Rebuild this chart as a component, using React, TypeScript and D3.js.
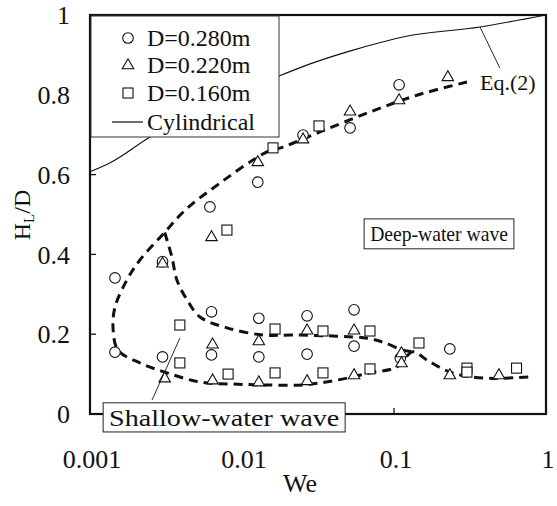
import React from "react";
import * as d3 from "d3";

// ---- data ----
const xTicks = [0.001, 0.01, 0.1, 1];
const xTickLabels = ["0.001", "0.01", "0.1", "1"];
const yTicks = [0, 0.2, 0.4, 0.6, 0.8, 1];
const yTickLabels = ["0", "0.2", "0.4", "0.6", "0.8", "1"];

const legendLabels = ["D=0.280m", "D=0.220m", "D=0.160m", "Cylindrical"];

// D=0.280m (circles): [We, HL/D]
const circleData: [number, number][] = [
  [0.00146, 0.341], [0.00146, 0.155], [0.003, 0.143], [0.003, 0.382],
  [0.00615, 0.519], [0.0063, 0.256], [0.0063, 0.148], [0.0127, 0.581],
  [0.0129, 0.24], [0.0129, 0.143], [0.0252, 0.699], [0.0268, 0.246],
  [0.0268, 0.15], [0.0514, 0.717], [0.0546, 0.261], [0.0546, 0.17],
  [0.108, 0.825], [0.11, 0.14], [0.233, 0.163],
];
// D=0.220m (triangles)
const triangleData: [number, number][] = [
  [0.003, 0.378], [0.0031, 0.09], [0.0063, 0.444], [0.0064, 0.175],
  [0.0064, 0.085], [0.0127, 0.632], [0.0129, 0.183], [0.0129, 0.08],
  [0.0252, 0.689], [0.0268, 0.21], [0.0268, 0.083], [0.0514, 0.759],
  [0.0546, 0.21], [0.0546, 0.098], [0.108, 0.787], [0.112, 0.153],
  [0.112, 0.128], [0.226, 0.845], [0.233, 0.098], [0.49, 0.098],
];
// D=0.160m (squares)
const squareData: [number, number][] = [
  [0.0039, 0.223], [0.0039, 0.128], [0.00796, 0.461], [0.0081, 0.1],
  [0.016, 0.667], [0.0165, 0.213], [0.0165, 0.103], [0.0321, 0.722],
  [0.0341, 0.208], [0.0341, 0.103], [0.0695, 0.208], [0.0695, 0.113],
  [0.146, 0.178], [0.302, 0.115], [0.302, 0.105], [0.64, 0.115],
];

// Cylindrical, Eq.(2)
const cylWe = [0.001, 0.00135, 0.00248, 0.017, 0.0293, 0.0538, 0.1146, 0.368, 1.0];
const cylH = [0.607, 0.629, 0.694, 0.845, 0.88, 0.912, 0.945, 0.97, 1.0];

// dashed boundary curves
const curveAWe = [0.302, 0.1416, 0.0664, 0.0326, 0.0186, 0.0146, 0.00644, 0.0042, 0.0031,
  0.00213, 0.00175, 0.00146, 0.00142, 0.00153, 0.00213, 0.00321, 0.0053, 0.00873,
  0.01374, 0.0252, 0.0422, 0.0695, 0.1047, 0.133, 0.165, 0.234, 0.385, 0.785];
const curveAH = [0.832, 0.799, 0.754, 0.707, 0.669, 0.657, 0.566, 0.51, 0.455,
  0.386, 0.336, 0.268, 0.211, 0.16, 0.128, 0.103, 0.08, 0.075,
  0.073, 0.073, 0.085, 0.103, 0.118, 0.156, 0.135, 0.105, 0.09, 0.093];
const curveBWe = [0.0031, 0.00346, 0.00373, 0.00435, 0.0053, 0.00796, 0.01374, 0.0217,
  0.0422, 0.0664, 0.0847, 0.1146, 0.133];
const curveBH = [0.455, 0.393, 0.336, 0.286, 0.243, 0.216, 0.198, 0.198,
  0.195, 0.19, 0.18, 0.16, 0.156];

// annotations
const eqLeader = [[0.368, 0.97], [0.497, 0.867]];
const eqLabelPos = [0.368, 0.812];
const shallowLeader = [[0.0039, 0.19], [0.00256, 0.035]];
const deepBox = [0.0636, 0.615, 0.489, 0.414];
const shallowBox = [0.00122, 0.0477, 0.028, -0.045];

const W = 557, H = 506;
const left = 90, right = 546, top = 15, bottom = 414;
const FONT = "Liberation Serif, Times New Roman, Times, serif";
const T = { fontFamily: FONT };

export default function App() {
  const x = d3.scaleLog().domain([0.001, 1]).range([left, right]);
  const y = d3.scaleLinear().domain([0, 1]).range([bottom, top]);

  const cylLine = d3.line<number>().x((_, i) => x(cylWe[i])).y((_, i) => y(cylH[i]))
    .curve(d3.curveMonotoneX);
  const curveA = d3.line<number>().x((_, i) => x(curveAWe[i])).y((_, i) => y(curveAH[i]))
    .curve(d3.curveCatmullRom.alpha(0.5));
  const curveB = d3.line<number>().x((_, i) => x(curveBWe[i])).y((_, i) => y(curveBH[i]))
    .curve(d3.curveCatmullRom.alpha(0.5));

  const circle = (cx: number, cy: number, k: string) => (
    <circle key={k} cx={cx} cy={cy} r={5.3} fill="white" stroke="#111" strokeWidth={1.1} />
  );
  const tri = (cx: number, cy: number, k: string) => {
    const s = 11.5, h = s * Math.sqrt(3) / 2;
    const pts = `${cx},${cy - h * 0.62} ${cx - s / 2},${cy + h * 0.38} ${cx + s / 2},${cy + h * 0.38}`;
    return <polygon key={k} points={pts} fill="white" stroke="#111" strokeWidth={1.1} />;
  };
  const sq = (cx: number, cy: number, k: string) => (
    <rect key={k} x={cx - 5} y={cy - 5} width={10} height={10} fill="white" stroke="#111" strokeWidth={1.1} />
  );

  const legX = 128, legText = 147;
  const legRows = [38, 65, 93, 122];

  return (
    <svg width={W} height={H} style={{ position: "absolute", left: 0, top: 0, background: "white" }}>
      <rect x={0} y={0} width={W} height={H} fill="white" />
      {/* Cylindrical line */}
      <path d={cylLine(cylWe) || ""} fill="none" stroke="#111" strokeWidth={1.1} />
      {/* Eq.(2) leader */}
      <line x1={x(eqLeader[0][0])} y1={y(eqLeader[0][1])} x2={x(eqLeader[1][0])} y2={y(eqLeader[1][1])}
        stroke="#111" strokeWidth={0.9} />
      <text x={x(eqLabelPos[0])} y={y(eqLabelPos[1])} fontSize={22} fill="#111" style={T}>Eq.(2)</text>

      {/* dashed curves */}
      <path d={curveA(curveAWe) || ""} fill="none" stroke="#111" strokeWidth={3} strokeDasharray="9,6" />
      <path d={curveB(curveBWe) || ""} fill="none" stroke="#111" strokeWidth={3} strokeDasharray="9,6" />

      {/* markers */}
      {squareData.map((d, i) => sq(x(d[0]), y(d[1]), "s" + i))}
      {circleData.map((d, i) => circle(x(d[0]), y(d[1]), "c" + i))}
      {triangleData.map((d, i) => tri(x(d[0]), y(d[1]), "t" + i))}

      {/* ticks */}
      {yTicks.filter(v => v > 0 && v < 1).map(v => (
        <line key={"yt" + v} x1={left} x2={left + 6} y1={y(v)} y2={y(v)} stroke="#111" strokeWidth={1.3} />
      ))}
      {xTicks.filter(v => v > 0.001 && v < 1).map(v => (
        <line key={"xt" + v} x1={x(v)} x2={x(v)} y1={bottom} y2={bottom - 6} stroke="#111" strokeWidth={1.3} />
      ))}
      {/* frame */}
      <rect x={left} y={top} width={right - left} height={bottom - top} fill="none" stroke="#111" strokeWidth={2.2} />

      {/* legend */}
      <rect x={left + 1} y={top + 1} width={278 - left} height={137 - top - 1} fill="white" stroke="#333" strokeWidth={1} />
      {circle(legX, legRows[0], "lc")}
      {tri(legX, legRows[1], "lt")}
      {sq(legX, legRows[2], "ls")}
      <line x1={112} x2={143} y1={legRows[3]} y2={legRows[3]} stroke="#111" strokeWidth={1.2} />
      {legendLabels.map((t, i) => (
        <text key={"lg" + i} x={legText} y={legRows[i]} dy="0.35em" fontSize={24} fill="#111" style={T}>{t}</text>
      ))}

      {/* Deep-water box */}
      <rect x={x(deepBox[0])} y={y(deepBox[2])} width={x(deepBox[1]) - x(deepBox[0])}
        height={y(deepBox[3]) - y(deepBox[2])} fill="white" stroke="#222" strokeWidth={1} />
      <text x={(x(deepBox[0]) + x(deepBox[1])) / 2} y={(y(deepBox[2]) + y(deepBox[3])) / 2} dy="0.35em"
        textAnchor="middle" fontSize={21} fill="#111" style={T}
        textLength={x(deepBox[1]) - x(deepBox[0]) - 12} lengthAdjust="spacingAndGlyphs">Deep-water wave</text>

      {/* Shallow-water leader + box */}
      <line x1={x(shallowLeader[0][0])} y1={y(shallowLeader[0][1])} x2={x(shallowLeader[1][0])} y2={y(shallowLeader[1][1])}
        stroke="#111" strokeWidth={0.9} />
      <rect x={x(shallowBox[0])} y={y(shallowBox[2])} width={x(shallowBox[1]) - x(shallowBox[0])}
        height={y(shallowBox[3]) - y(shallowBox[2])} fill="white" stroke="#222" strokeWidth={1} />
      <text x={(x(shallowBox[0]) + x(shallowBox[1])) / 2} y={(y(shallowBox[2]) + y(shallowBox[3])) / 2} dy="0.35em"
        textAnchor="middle" fontSize={24} fill="#111" style={T}
        textLength={x(shallowBox[1]) - x(shallowBox[0]) - 12} lengthAdjust="spacingAndGlyphs">Shallow-water wave</text>

      {/* tick labels */}
      {yTicks.map((v, i) => (
        <text key={"yl" + v} x={70} y={y(v)} dy="0.35em" textAnchor="end" fontSize={26} fill="#111" style={T}>{yTickLabels[i]}</text>
      ))}
      {xTicks.map((v, i) => (
        <text key={"xl" + v} x={x(v) + 2} y={468} textAnchor="middle" fontSize={26} fill="#111" style={T}>{xTickLabels[i]}</text>
      ))}
      <text x={300} y={492} textAnchor="middle" fontSize={26} fill="#111" style={T}>We</text>
      <text transform={`translate(30,215) rotate(-90)`} textAnchor="middle" fontSize={24} fill="#111" style={T}>
        H<tspan fontSize={15} dy={4}>L</tspan><tspan dy={-4}>/D</tspan>
      </text>
    </svg>
  );
}
